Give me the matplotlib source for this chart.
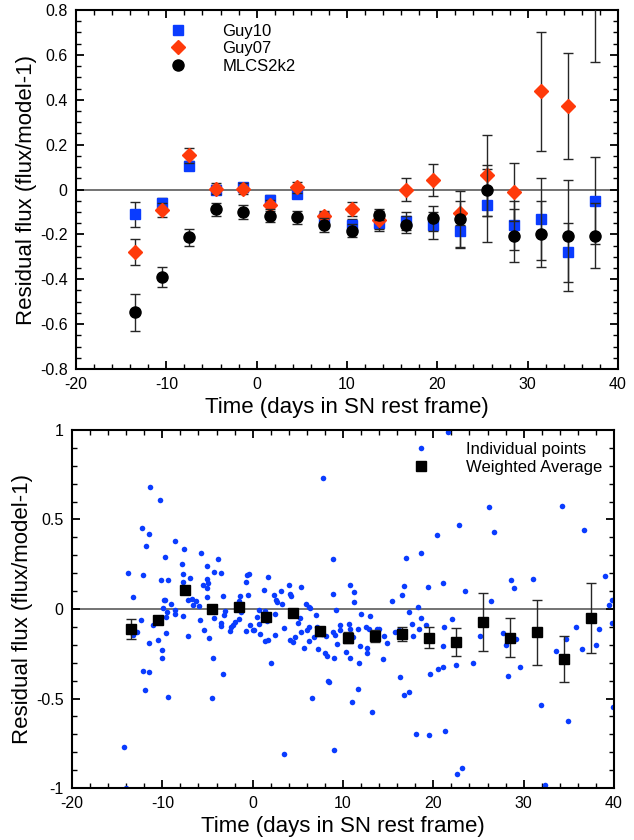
import numpy as np
import matplotlib
matplotlib.use("Agg")
import matplotlib.pyplot as plt
from matplotlib.ticker import MultipleLocator, FuncFormatter

# phase bins (days in SN rest frame)
phase = [-13.5, -10.5, -7.5, -4.5, -1.5, 1.5, 4.5, 7.5, 10.5,
         13.5, 16.5, 19.5, 22.5, 25.5, 28.5, 31.5, 34.5, 37.5]

guy10 = [-0.11, -0.06, 0.105, 0.0, 0.01, -0.045, -0.02, -0.125, -0.16,
         -0.15, -0.14, -0.16, -0.185, -0.07, -0.16, -0.13, -0.28, -0.05]
guy10_err = [0.056, 0.02, 0.02, 0.02, 0.02, 0.02, 0.02, 0.025, 0.03,
             0.035, 0.04, 0.06, 0.077, 0.162, 0.11, 0.183, 0.13, 0.195]

guy07 = [-0.278, -0.092, 0.152, 0.003, 0.003, -0.07, 0.01, -0.12, -0.086,
         -0.135, 0.0, 0.043, -0.105, 0.064, -0.012, 0.437, 0.372, 1.0]
guy07_err = [0.058, 0.03, 0.035, 0.025, 0.025, 0.025, 0.025, 0.025, 0.03,
             0.04, 0.05, 0.07, 0.052, 0.18, 0.13, 0.267, 0.238, 0.43]

mlcs = [-0.548, -0.39, -0.213, -0.089, -0.1, -0.116, -0.124, -0.159, -0.183,
        -0.112, -0.156, -0.128, -0.131, -0.004, -0.205, -0.198, -0.205, -0.205]
mlcs_err = [0.082, 0.044, 0.038, 0.03, 0.03, 0.03, 0.03, 0.03, 0.03,
            0.025, 0.04, 0.055, 0.126, 0.115, 0.12, 0.146, 0.247, 0.144]

# weighted average of individual points (same as Guy10 binning)
wavg = guy10
wavg_err = guy10_err

indiv_time = [
    -11.37, -10.30, -12.21, -11.44, -11.81, -9.75, -13.80, -12.14, -10.18, -13.28,
    -9.85, -9.96, -12.40, -11.03, -12.80, -13.28, -11.44, -10.48, -10.04, -10.04,
    -12.14, -11.44, -11.92, -14.21, -14.0,
    -8.64, -7.57, -5.69, -3.88, -7.79, -5.09, -4.32, -3.47, -7.75, -9.38,
    -6.94, -7.68, -5.06, -4.91, -5.46, -5.06, -0.63, -0.45, -0.72, -9.67,
    -9.04, -7.16, -6.72, -6.28, -6.61, -5.91, -5.06, -3.25, -1.41, -0.56,
    -1.48, -8.64, -9.52, -8.64, -9.60, -7.68, -5.80, -4.25, -3.03, -3.21,
    -3.55, -3.47, -2.55, -2.37, -2.22, -1.99, -1.48, -1.26, -0.34, -0.78,
    0.03, -9.56, -5.35, -4.80, -7.16, -4.43, -3.29, -9.38, -4.54,
    7.79, 8.93, 8.90, 1.74, 1.26, 4.06, 3.18, 5.39, 2.37, 4.14,
    4.28, 2.55, 2.66, 3.25, 5.95, 6.20, 6.39, 0.67, 1.41, 2.44,
    0.48, 7.02, 9.19, 5.28, 4.47, 0.67, 1.59, 0.11, 5.02, 3.47,
    0.85, 2.51, 5.32, 6.06, 6.20, 7.09, 7.68, 8.16, 8.93, 9.08,
    9.67, 9.67, 6.83, 6.28, 4.73, 4.17, 4.51, 1.41, 1.70, 9.34,
    5.69, 7.20, 7.97, 8.23, 9.04, 2.07, 8.34, 8.49, 6.61, 3.51, 9.04,
    18.60, 16.97, 10.81, 11.18, 11.18, 16.72, 16.57, 15.46, 19.37, 18.34,
    17.34, 18.64, 12.03, 12.99, 10.70, 10.78, 11.70, 12.58, 12.84, 13.80,
    13.99, 14.54, 14.83, 15.76, 16.24, 17.68, 18.45, 19.23, 17.75, 11.07,
    11.92, 12.66, 12.66, 10.30, 10.78, 11.81, 14.39, 16.35, 16.72, 17.31,
    19.63, 11.70, 11.03, 13.25, 18.08, 19.56,
    21.62, 26.20, 22.80, 26.71, 20.44, 21.10, 23.50, 28.56, 28.96, 26.38,
    22.06, 21.14, 25.16, 27.71, 28.08, 29.15, 21.03, 20.48, 21.03, 22.54,
    24.39, 28.23, 29.59, 21.25, 23.17, 22.65,
    34.28, 36.65, 31.07, 38.97, 39.78, 39.49, 35.83, 34.73, 38.34, 36.43,
    38.01, 33.62, 39.78, 31.89, 34.91, 32.33, 39.86,
]
indiv_resid = [
    0.68, 0.61, 0.45, 0.42, 0.35, 0.29, 0.20, 0.19, 0.16, 0.065,
    0.05, 0.004, -0.064, -0.088, -0.127, -0.144, -0.188, -0.171, -0.227, -0.272,
    -0.345, -0.352, -0.453, -0.773, -1.0,
    0.378, 0.337, 0.313, 0.279, 0.251, 0.238, 0.205, 0.199, 0.197, 0.162,
    0.173, 0.149, 0.169, 0.147, 0.134, 0.117, 0.192, 0.197, 0.15, 0.052,
    0.028, 0.05, 0.054, 0.045, 0.022, 0.017, 0.067, 0.071, 0.071, 0.076,
    0.043, -0.004, -0.019, -0.028, -0.045, -0.041, -0.06, -0.05, -0.009, -0.032,
    -0.078, -0.097, -0.125, -0.101, -0.088, -0.075, -0.054, -0.015, -0.091, -0.125,
    -0.115, -0.134, -0.119, -0.162, -0.153, -0.276, -0.365, -0.492, -0.497,
    0.732, 0.281, 0.086, 0.177, 0.104, 0.132, 0.102, 0.121, 0.08, 0.086,
    0.074, 0.05, 0.039, 0.03, 0.028, 0.013, 0.004, -0.004, -0.011, -0.028,
    -0.043, -0.036, -0.007, -0.049, -0.034, -0.082, -0.067, -0.119, -0.076, -0.106,
    -0.14, -0.145, -0.13, -0.116, -0.102, -0.102, -0.14, -0.153, -0.129, -0.147,
    -0.088, -0.116, -0.158, -0.181, -0.158, -0.173, -0.185, -0.181, -0.175, -0.196,
    -0.218, -0.224, -0.248, -0.263, -0.272, -0.30, -0.40, -0.41, -0.497, -0.81, -0.788,
    0.313, 0.285, 0.136, 0.097, 0.041, 0.13, 0.078, 0.043, 0.121, 0.009,
    -0.017, -0.05, -0.028, -0.037, -0.086, -0.114, -0.11, -0.101, -0.114, -0.11,
    -0.112, -0.151, -0.19, -0.129, -0.116, -0.086, -0.11, -0.091, -0.153, -0.158,
    -0.207, -0.22, -0.248, -0.239, -0.274, -0.30, -0.281, -0.378, -0.479, -0.462,
    -0.361, -0.449, -0.52, -0.576, -0.698, -0.702,
    0.99, 0.568, 0.467, 0.43, 0.415, 0.143, 0.099, 0.162, 0.119, 0.045,
    -0.056, -0.101, -0.151, -0.134, -0.2, -0.168, -0.207, -0.335, -0.326, -0.313,
    -0.30, -0.375, -0.326, -0.684, -0.888, -0.922,
    0.573, 0.443, 0.169, 0.184, 0.048, 0.02, -0.102, -0.166, -0.114, -0.222,
    -0.203, -0.233, -0.077, -0.538, -0.623, -0.985, -0.549,
]

BLUE = "#0a3cff"
RED = "#ff3a0a"
plt.rcParams.update({
    "font.family": ["Liberation Sans", "DejaVu Sans"],
    "axes.unicode_minus": False,
    "axes.linewidth": 1.5,
    "xtick.direction": "in", "ytick.direction": "in",
    "xtick.top": True, "ytick.right": True,
    "xtick.major.size": 6, "ytick.major.size": 6,
    "xtick.minor.size": 3.5, "ytick.minor.size": 3.5,
    "xtick.major.width": 1.3, "ytick.major.width": 1.3,
    "xtick.minor.width": 1.0, "ytick.minor.width": 1.0,
    "xtick.labelsize": 11.5, "ytick.labelsize": 11.5,
    "xtick.major.pad": 6, "ytick.major.pad": 6,
})

fig = plt.figure(figsize=(6.34, 8.4), dpi=100)
ax1 = fig.add_axes([0.1199, 0.5607, 0.8549, 0.4274])
ax2 = fig.add_axes([0.1136, 0.0619, 0.8549, 0.4262])
fmt = FuncFormatter(lambda v, _: f"{v:g}")
leg_kw = dict(loc="upper left", frameon=False, fontsize=12, handlelength=1.0,
              handletextpad=2.2, borderpad=0, borderaxespad=0, labelspacing=0.15)

# --- top: three light-curve models ---
ax1.axhline(0, color="0.45", lw=1.4, zorder=1)
eb = dict(ls="none", capsize=3.5, elinewidth=1.0, capthick=1.0, ecolor="0.15")
ax1.errorbar(phase, guy10, yerr=guy10_err, fmt="s", ms=7, color=BLUE,
             label="Guy10", zorder=3, **eb)
ax1.errorbar(phase, guy07, yerr=guy07_err, fmt="D", ms=7, color=RED,
             label="Guy07", zorder=4, **eb)
ax1.errorbar(phase, mlcs, yerr=mlcs_err, fmt="o", ms=8, color="black",
             label="MLCS2k2", zorder=5, **eb)
ax1.set_xlim(-20, 40)
ax1.set_ylim(-0.8, 0.8)
ax1.xaxis.set_major_locator(MultipleLocator(10))
ax1.xaxis.set_minor_locator(MultipleLocator(2))
ax1.yaxis.set_major_locator(MultipleLocator(0.2))
ax1.yaxis.set_minor_locator(MultipleLocator(0.05))
ax1.yaxis.set_major_formatter(fmt)
ax1.set_xlabel("Time (days in SN rest frame)", fontsize=16, labelpad=3)
ax1.set_ylabel("Residual flux (flux/model-1)", fontsize=16, labelpad=2)
handles, labels = ax1.get_legend_handles_labels()
handles = [h[0] for h in handles]
ax1.legend(handles, labels, bbox_to_anchor=(0.172, 0.962), **leg_kw)

# --- bottom: individual points and weighted average ---
ax2.axhline(0, color="0.45", lw=1.4, zorder=1)
pts, = ax2.plot(indiv_time, indiv_resid, "o", ms=4, color=BLUE, mec="none",
                label="Individual points", zorder=2)
avg = ax2.errorbar(phase, wavg, yerr=wavg_err, fmt="s", ms=7.5, color="black",
                   label="Weighted Average", zorder=4, **eb)
ax2.set_xlim(-20, 40)
ax2.set_ylim(-1, 1)
ax2.xaxis.set_major_locator(MultipleLocator(10))
ax2.xaxis.set_minor_locator(MultipleLocator(2))
ax2.yaxis.set_major_locator(MultipleLocator(0.5))
ax2.yaxis.set_minor_locator(MultipleLocator(0.1))
ax2.yaxis.set_major_formatter(fmt)
ax2.set_xlabel("Time (days in SN rest frame)", fontsize=16, labelpad=3)
ax2.set_ylabel("Residual flux (flux/model-1)", fontsize=16, labelpad=2)
ax2.legend([pts, avg[0]], ["Individual points", "Weighted Average"],
           bbox_to_anchor=(0.629, 0.966), **leg_kw)

fig.savefig("out.png", dpi=100)
